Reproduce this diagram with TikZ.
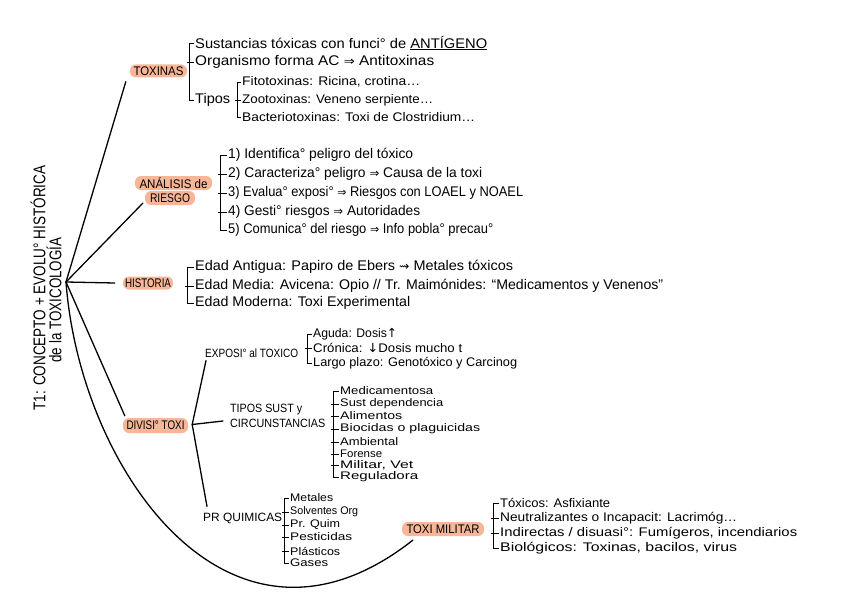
\documentclass[tikz,border=0pt]{standalone}
\usepackage{fontspec}
\usepackage{graphicx}
\setmainfont{Liberation Sans}
\newfontfamily\symf{DejaVu Sans}
\newcommand\fw[2]{\resizebox{#1pt}{\height}{#2}}
\newcommand\myimp{{\symf\scalebox{0.85}{⇒}}}
\newcommand\mysq{{\symf\scalebox{0.85}{⇝}}}
\newcommand\myup{{\symf ↑}}
\newcommand\mydn{{\symf ↓}}
\definecolor{labc}{RGB}{248,182,152}
\begin{document}
\begin{tikzpicture}[x=1pt,y=-1pt,
  conn/.style={line width=1.3pt,line cap=round},
  brk/.style={line width=0.9pt},
  lab/.style={fill=labc,rounded corners=6pt,inner sep=0pt,font=\fontsize{12.5}{14}\selectfont},
  itA/.style={anchor=west,inner sep=0pt,font=\fontsize{14}{16}\selectfont},
  itB/.style={anchor=west,inner sep=0pt,font=\fontsize{12.5}{14}\selectfont},
  itC/.style={anchor=west,inner sep=0pt,font=\fontsize{11}{13}\selectfont},
  subl/.style={anchor=west,inner sep=0pt,font=\fontsize{12}{15}\selectfont},
  ttl/.style={rotate=90,inner sep=0pt,font=\fontsize{17}{19}\selectfont}
]
\fill[white] (0,0) rectangle (848,599);
\useasboundingbox (0,0) rectangle (848,599);

% title
\node[ttl] (t1) at (38,288) {\fw{245}{T1: CONCEPTO + EVOLU° HISTÓRICA}};
\node[ttl] (t2) at (54,300) {\fw{125}{de la TOXICOLOGÍA}};
\coordinate (hub) at (66,282);

% main labels
\node[lab,minimum width=57pt,minimum height=13pt] (tox) at (158.5,71) {\fw{50}{TOXINAS}};
\node[lab,minimum width=50pt,minimum height=14pt] (ana2) at (170,198) {\fw{40}{RIESGO}};
\node[lab,minimum width=77pt,minimum height=14pt] (ana1) at (173.5,183) {\fw{68}{ANÁLISIS de}};
\node[lab,minimum width=50pt,minimum height=13pt] (his) at (148,283) {\fw{46}{HISTORIA}};
\node[lab,minimum width=65pt,minimum height=15pt] (div) at (155.5,425.5) {\fw{58}{DIVISI° TOXI}};
\node[lab,minimum width=82pt,minimum height=14pt] (mil) at (443,529) {\fw{73}{TOXI MILITAR}};

% connectors from hub
\draw[conn] (hub) -- ([shift={(-4,4)}]tox.south west);
\draw[conn] (hub) -- ([shift={(-2,-2)}]ana2.south west);
\draw[conn] (hub) -- ([shift={(-8,0)}]his.west);
\draw[conn] (hub) -- ([shift={(2,-2)}]div.north west);
\draw[conn] (hub) .. controls (80,470) and (230,684) .. ([shift={(11,4)}]mil.south west);

% TOXINAS
\node[itA] (s1) at (195,43) {\fw{292}{Sustancias tóxicas con funci° de \underline{ANTÍGENO}}};
\node[itA] (s2) at (195,62) {\fw{239}{Organismo forma AC \myimp{} Antitoxinas}};
\node[itA] (tp) at (195,100) {\fw{35}{Tipos}};
\draw[brk] ([xshift=-1pt]s1.west) -- ++(-5,0) |- ([xshift=-1pt]tp.west);
\draw[brk] ([xshift=-1pt]s2.west) -- ++(-7,0);

\node[itB] (f1) at (242,82) {\fw{178}{Fitotoxinas: Ricina, crotina…}};
\node[itB] (f2) at (242,100) {\fw{191}{Zootoxinas: Veneno serpiente…}};
\node[itB] (f3) at (242,117) {\fw{233}{Bacteriotoxinas: Toxi de Clostridium…}};
\draw[brk] ([xshift=-1pt]f1.west) -- ++(-4,0) |- ([xshift=-1pt]f3.west);
\draw[brk] ([xshift=-1pt]f2.west) -- ++(-6,0);

% ANALISIS DE RIESGO
\node[itA] (a1) at (228,155) {\fw{185}{1) Identifica° peligro del tóxico}};
\node[itA] (a2) at (228,174) {\fw{254}{2) Caracteriza° peligro \myimp{} Causa de la toxi}};
\node[itA] (a3) at (228,193) {\fw{295}{3) Evalua° exposi° \myimp{} Riesgos con LOAEL y NOAEL}};
\node[itA] (a4) at (228,212) {\fw{192}{4) Gesti° riesgos \myimp{} Autoridades}};
\node[itA] (a5) at (228,230) {\fw{265}{5) Comunica° del riesgo \myimp{} Info pobla° precau°}};
\draw[brk] ([xshift=-1pt]a1.west) -- ++(-7,0) |- ([xshift=-1pt]a5.west);
\draw[brk] ([xshift=-1pt]a2.west) -- ++(-9,0);
\draw[brk] ([xshift=-1pt]a3.west) -- ++(-9,0);
\draw[brk] ([xshift=-1pt]a4.west) -- ++(-9,0);

% HISTORIA
\node[itA] (h1) at (195,267) {\fw{318}{Edad Antigua: Papiro de Ebers \mysq{} Metales tóxicos}};
\node[itA] (h2) at (195,286) {\fw{468}{Edad Media: Avicena: Opio // Tr. Maimónides: “Medicamentos y Venenos”}};
\node[itA] (h3) at (195,303) {\fw{215}{Edad Moderna: Toxi Experimental}};
\draw[brk] ([xshift=-1pt]h1.west) -- ++(-7,0) |- ([xshift=-1pt]h3.west);
\draw[brk] ([xshift=-1pt]h2.west) -- ++(-9,0);

% DIVISION TOXI
\coordinate (dv) at ([shift={(4,-1)}]div.east);
\node[subl] (ex) at (205,353) {\fw{93}{EXPOSI° al TOXICO}};
\node[subl,align=left] (ts) at (230,416) {\fw{72}{TIPOS SUST y}\\\fw{95}{CIRCUNSTANCIAS}};
\node[subl] (pr) at (203,518) {\fw{79}{PR QUIMICAS}};
\draw[conn] (dv) -- ([shift={(1,3)}]ex.south west);
\draw[conn] (dv) -- ([shift={(-7,5)}]ts.west);
\draw[conn] (dv) -- ([shift={(4,-6)}]pr.north west);

\node[itB] (e1) at (313,334) {\fw{84}{Aguda: Dosis\myup}};
\node[itB] (e2) at (313,348) {\fw{149}{Crónica: \mydn Dosis mucho t}};
\node[itB] (e3) at (313,363) {\fw{204}{Largo plazo: Genotóxico y Carcinog}};
\draw[brk] ([xshift=-1pt]e1.west) -- ++(-5,0) |- ([xshift=-1pt]e3.west);
\draw[brk] ([xshift=-1pt]e2.west) -- ++(-7,0);

\node[itC] (m1) at (340,391) {\fw{93}{Medicamentosa}};
\node[itC] (m2) at (340,404) {\fw{103}{Sust dependencia}};
\node[itC] (m3) at (340,416) {\fw{62}{Alimentos}};
\node[itC] (m4) at (340,429) {\fw{140}{Biocidas o plaguicidas}};
\node[itC] (m5) at (340,442) {\fw{58}{Ambiental}};
\node[itC] (m6) at (340,454) {\fw{42}{Forense}};
\node[itC] (m7) at (340,465) {\fw{73}{Militar, Vet}};
\node[itC] (m8) at (340,477) {\fw{78}{Reguladora}};
\draw[brk] ([xshift=-1pt]m1.west) -- ++(-6,0) |- ([xshift=-1pt]m8.west);
\foreach \k in {m2,m3,m4,m5,m6,m7} \draw[brk] ([xshift=-1pt]\k.west) -- ++(-8,0);

\node[itC] (p1) at (290,498) {\fw{43}{Metales}};
\node[itC] (p2) at (290,512) {\fw{68}{Solventes Org}};
\node[itC] (p3) at (290,525) {\fw{50}{Pr. Quim}};
\node[itC] (p4) at (290,537) {\fw{62}{Pesticidas}};
\node[itC] (p5) at (290,551) {\fw{50}{Plásticos}};
\node[itC] (p6) at (290,563) {\fw{38}{Gases}};
\draw[brk] ([xshift=-1pt]p1.west) -- ++(-5,0) |- ([xshift=-1pt]p6.west);
\foreach \k in {p2,p3,p4,p5} \draw[brk] ([xshift=-1pt]\k.west) -- ++(-7,0);

% TOXI MILITAR
\node[itB] (k1) at (500,503) {\fw{110}{Tóxicos: Asfixiante}};
\node[itB] (k2) at (500,518) {\fw{237}{Neutralizantes o Incapacit: Lacrimóg…}};
\node[itB] (k3) at (500,533) {\fw{297}{Indirectas / disuasi°: Fumígeros, incendiarios}};
\node[itB] (k4) at (500,548) {\fw{237}{Biológicos: Toxinas, bacilos, virus}};
\draw[brk] ([xshift=-1pt]k1.west) -- ++(-6,0) |- ([xshift=-1pt]k4.west);
\draw[brk] ([xshift=-1pt]k2.west) -- ++(-8,0);
\draw[brk] ([xshift=-1pt]k3.west) -- ++(-8,0);
\end{tikzpicture}
\end{document}
